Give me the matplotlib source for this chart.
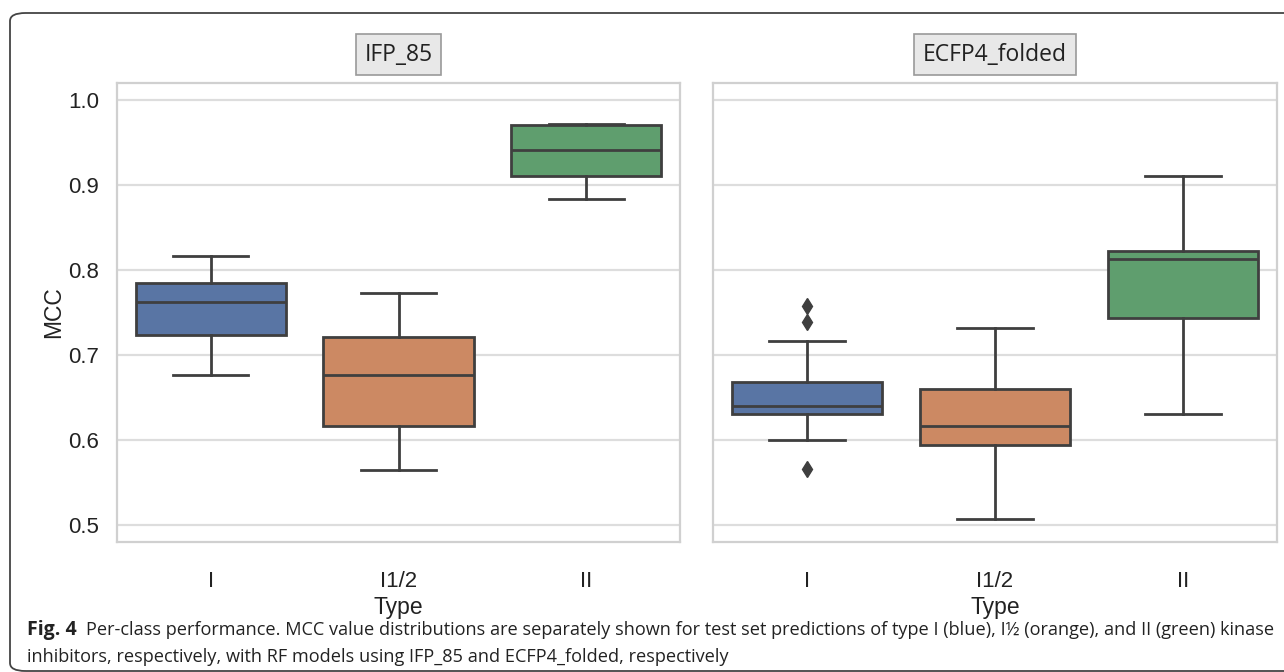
import matplotlib.pyplot as plt
from matplotlib.patches import FancyBboxPatch

# box statistics: whislo, q1, med, q3, whishi
types = ["I", "I1/2", "II"]
panels = ["IFP_85", "ECFP4_folded"]

ifp_whislo = [0.677, 0.565, 0.884]
ifp_q1 = [0.723, 0.616, 0.911]
ifp_med = [0.762, 0.677, 0.941]
ifp_q3 = [0.785, 0.721, 0.970]
ifp_whishi = [0.817, 0.773, 0.972]
ifp_fliers = [[], [], []]

ecfp_whislo = [0.600, 0.507, 0.630]
ecfp_q1 = [0.630, 0.594, 0.744]
ecfp_med = [0.640, 0.616, 0.813]
ecfp_q3 = [0.668, 0.660, 0.822]
ecfp_whishi = [0.717, 0.732, 0.910]
ecfp_fliers = [[0.758, 0.739, 0.566], [], []]

colors = ["#5975a4", "#cc8963", "#5f9e6e"]
line_col = "#3f3f3f"

plt.rcParams['font.family'] = ['Liberation Sans', 'DejaVu Sans']

fig = plt.figure(figsize=(12.84, 6.72), dpi=100)

# outer rounded frame (right side runs off the canvas)
frame = FancyBboxPatch((10 / 1284, 1 - 671 / 672), 1.2, 658 / 672,
                       boxstyle="round,pad=0,rounding_size=0.012",
                       transform=fig.transFigure, fill=False,
                       edgecolor="#444444", linewidth=1.3)
fig.patches.append(frame)

axes = [fig.add_axes([117 / 1284, 0.1935, 563 / 1284, 0.683]),
        fig.add_axes([713 / 1284, 0.1935, 564 / 1284, 0.683])]

data = [
    (ifp_whislo, ifp_q1, ifp_med, ifp_q3, ifp_whishi, ifp_fliers),
    (ecfp_whislo, ecfp_q1, ecfp_med, ecfp_q3, ecfp_whishi, ecfp_fliers),
]

for k, ax in enumerate(axes):
    lo, q1, med, q3, hi, fl = data[k]
    stats = []
    for i in range(len(types)):
        stats.append({"whislo": lo[i], "q1": q1[i], "med": med[i],
                      "q3": q3[i], "whishi": hi[i], "fliers": fl[i],
                      "label": types[i]})
    bp = ax.bxp(stats, positions=range(len(types)), widths=0.8,
                patch_artist=True, capwidths=0.4,
                boxprops=dict(edgecolor=line_col, linewidth=2),
                medianprops=dict(color=line_col, linewidth=2),
                whiskerprops=dict(color=line_col, linewidth=2),
                capprops=dict(color=line_col, linewidth=2),
                flierprops=dict(marker="d", markerfacecolor=line_col,
                                markeredgecolor=line_col, markersize=8))
    for patch, c in zip(bp["boxes"], colors):
        patch.set_facecolor(c)
        patch.set_zorder(2)

    ax.set_xlim(-0.5, 2.5)
    ax.set_ylim(0.48, 1.02)
    ax.set_yticks([0.5, 0.6, 0.7, 0.8, 0.9, 1.0])
    ax.yaxis.grid(True, color="#dddddd", linewidth=1.6)
    ax.set_axisbelow(True)
    for s in ax.spines.values():
        s.set_color("#d0d0d0")
        s.set_linewidth(1.6)
    ax.tick_params(length=0, labelsize=16, colors="#222222")
    ax.tick_params(axis="x", pad=21)
    ax.tick_params(axis="y", pad=13)
    ax.set_xlabel("Type", fontsize=16.5, color="#222222", labelpad=3)
    ax.set_title(panels[k], fontsize=16.5, family=['Open Sans', 'DejaVu Sans'],
                 color="#222222", pad=16,
                 bbox=dict(boxstyle="square,pad=0.38", facecolor="#e8e8e8",
                           edgecolor="#999999", linewidth=1.2))

axes[0].set_ylabel("MCC", fontsize=16.5, color="#222222", labelpad=2)
axes[1].set_yticklabels([])

# caption
cap_font = ['Open Sans', 'DejaVu Sans']
fig.text(27 / 1284, 1 - 630 / 672, "Fig. 4", fontsize=14, fontweight="bold",
         family=cap_font, va="center", color="#222222")
fig.text(86 / 1284, 1 - 630 / 672,
         "Per-class performance. MCC value distributions are separately shown for test set "
         "predictions of type I (blue), I½ (orange), and II (green) kinase",
         fontsize=13.1, family=cap_font, va="center", color="#222222")
fig.text(27 / 1284, 1 - 657 / 672,
         "inhibitors, respectively, with RF models using IFP_85 and ECFP4_folded, respectively",
         fontsize=13.1, family=cap_font, va="center", color="#222222")

fig.savefig("out.png", dpi=100)
